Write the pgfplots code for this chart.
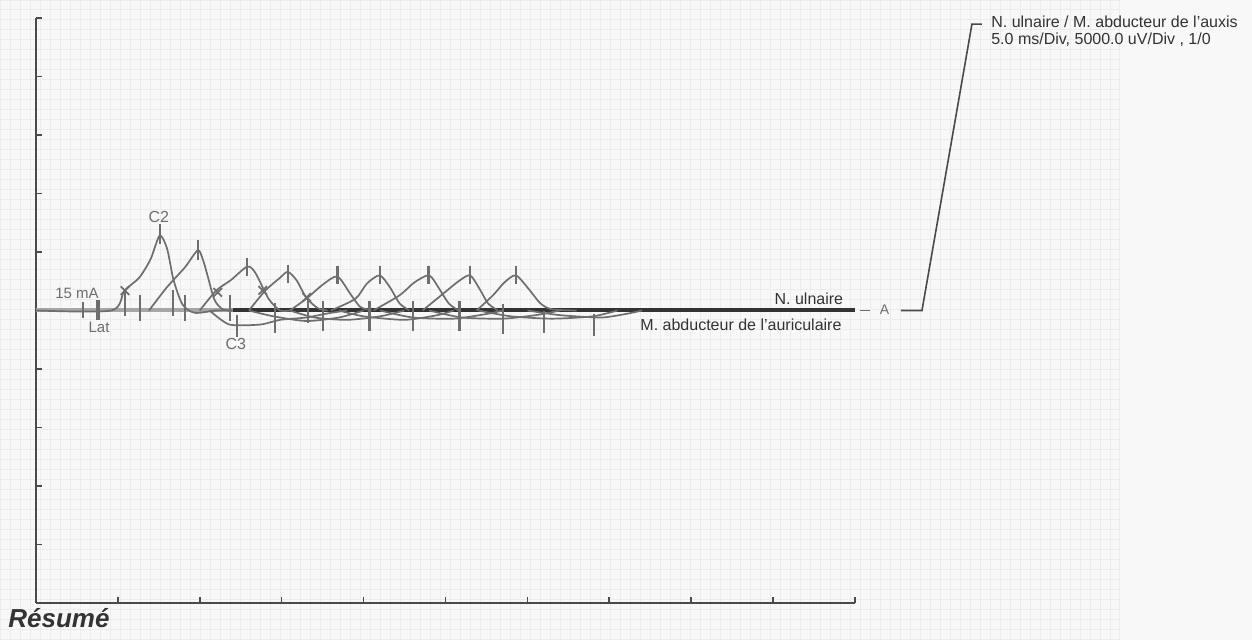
\documentclass[border=0pt]{standalone}
\usepackage{fontspec}
\setmainfont{Liberation Sans}
\usepackage{pgfplots}
\pgfplotsset{compat=1.18}
\definecolor{trace}{HTML}{6E6E6E}
\definecolor{axisc}{HTML}{4A4A4A}
\definecolor{dark}{HTML}{333333}
\definecolor{gridc}{HTML}{ECECEC}
\definecolor{paper}{HTML}{F8F8F8}
\begin{document}
\begin{tikzpicture}
\path[use as bounding box, fill=paper] (0,0) rectangle (626pt,320pt);
\draw[gridc, line width=0.5pt] (0,0) grid[step=5pt] (560pt,320pt);
\begin{axis}[
  at={(18pt,18.5pt)}, anchor=south west,
  scale only axis, width=409.5pt, height=292.5pt,
  xmin=0, xmax=50, ymin=-25, ymax=25,
  axis x line=bottom, axis y line=left,
  axis line style={-, draw=axisc, line width=1pt},
  xtick={0,5,...,50}, ytick={-25,-20,...,25},
  xticklabels={}, yticklabels={},
  tick align=inside, major tick length=3pt,
  tick style={axisc, line width=0.8pt},
  clip=false,
  every axis plot/.append style={trace, line width=0.85pt},
]
% baseline
\addplot[gray!70, line width=2pt] coordinates {(0,0)(12,0)};
\addplot[dark, line width=2pt] coordinates {(12,0)(50,0)};
% N. ulnaire traces
\addplot[smooth, tension=0.45] coordinates {(0,0)(4.6,0)(5.4,1.7)(6.3,2.8)(7.0,4.4)(7.55,6.4)(8.0,5.3)(8.4,2.6)(8.95,0.5)(9.7,-0.2)(11,0)(12,0)};
\addplot[smooth, tension=0.45] coordinates {(6.9,0)(8.0,2.0)(9.1,3.7)(9.88,5.15)(10.2,4.3)(10.45,3.1)(10.9,0.9)(11.4,0.1)(12,0)};
\addplot[smooth, tension=0.45] coordinates {(10.0,0)(11.0,1.7)(11.9,2.6)(12.9,3.75)(13.4,3.2)(14.2,1.0)(14.9,0)(15.5,0)};
\addplot[smooth, tension=0.45] coordinates {(13.0,0)(14.0,1.7)(14.9,2.8)(15.37,3.3)(15.9,2.6)(16.5,1.1)(17.2,0.2)(17.8,0)};
\addplot[smooth, tension=0.45] coordinates {(15.5,0)(16.5,1.0)(17.5,2.2)(18.4,2.9)(19.2,1.4)(19.8,0.3)(20.5,0)};
\addplot[smooth, tension=0.45] coordinates {(18.0,0)(19.5,1.0)(20.2,2.3)(20.98,3.0)(21.6,2.0)(22.2,0.6)(22.8,0)};
\addplot[smooth, tension=0.45] coordinates {(20.6,0)(22.2,1.3)(23.1,2.4)(24.0,3.0)(24.6,1.9)(25.2,0.6)(25.8,0)};
\addplot[smooth, tension=0.45] coordinates {(23.6,0)(25.0,1.6)(25.8,2.5)(26.5,3.0)(27.1,1.8)(27.6,0.6)(28.2,0)};
\addplot[smooth, tension=0.45] coordinates {(26.9,0)(27.9,1.3)(28.6,2.4)(29.3,3.0)(30.1,1.8)(30.8,0.6)(31.5,0.1)(33,0)};
% M. abducteur traces
\addplot[smooth, tension=0.4] coordinates {(10.6,0)(11.8,-1.2)(13.7,-1.2)(14.9,-0.8)(16.5,-0.6)(18,-0.2)(19,0)};
\addplot[smooth, tension=0.4] coordinates {(13.0,0)(14.5,-0.5)(16.5,-0.9)(18.5,-0.6)(20,0)};
\addplot[smooth, tension=0.4] coordinates {(15.5,0)(17,-0.6)(19,-0.8)(21,-0.5)(22.5,0)};
\addplot[smooth, tension=0.4] coordinates {(18.5,0)(20,-0.5)(22.5,-0.8)(24.5,-0.4)(25.5,0)};
\addplot[smooth, tension=0.4] coordinates {(21,0)(23,-0.6)(25.5,-0.7)(27.5,-0.3)(28.5,0)};
\addplot[smooth, tension=0.4] coordinates {(24,0)(26,-0.6)(28.5,-0.7)(30.5,-0.4)(32,0)};
\addplot[smooth, tension=0.4] coordinates {(27,0)(29,-0.5)(31.5,-0.7)(34,-0.5)(35.5,0)};
\addplot[smooth, tension=0.4] coordinates {(30,0)(32,-0.4)(34.5,-0.6)(36,-0.3)(37,0)};
% markers
\addplot[only marks, mark=|, mark size=5pt, mark options={trace, line width=1pt}] coordinates {(7.56,6.5)(9.88,5.15)};
\addplot[only marks, mark=|, mark size=4.5pt, mark options={trace, line width=1pt}] coordinates {(12.9,3.7)(15.37,3.1)(20.98,3.0)(26.47,3.0)(29.33,3.0)};
\addplot[only marks, mark=|, mark size=4.5pt, mark options={trace, line width=1.6pt}] coordinates {(18.4,3.0)(23.97,3.0)};
\addplot[only marks, mark=|, mark size=6.5pt, mark options={trace, line width=1pt}] coordinates {(5.43,0.6)(6.34,0.2)(8.35,0.6)(9.09,0.2)(11.83,0.2)(16.6,0.0)};
\addplot[only marks, mark=|, mark size=7.5pt, mark options={trace, line width=1pt}] coordinates {(14.57,-0.6)(17.5,-0.5)(22.99,-0.5)(28.48,-0.7)};
\addplot[only marks, mark=|, mark size=7.5pt, mark options={trace, line width=1.6pt}] coordinates {(20.37,-0.5)(25.86,-0.5)};
\addplot[only marks, mark=|, mark size=5.5pt, mark options={trace, line width=1pt}] coordinates {(31.04,-1.0)(34.09,-1.2)(12.26,-1.3)};
\addplot[only marks, mark=|, mark size=4pt, mark options={trace, line width=0.9pt}] coordinates {(2.87,0)};
\addplot[only marks, mark=|, mark size=5pt, mark options={trace, line width=1.6pt}] coordinates {(3.78,0)};
\addplot[only marks, mark=x, mark size=3pt, mark options={trace, line width=0.9pt}] coordinates {(5.43,1.7)(11.1,1.55)(13.84,1.72)(16.53,1.12)};
% labels
\node[anchor=base west, font=\fontsize{7.5}{8}\selectfont, text=trace, inner sep=0pt] at (axis cs:1.16,1.0) {15 mA};
\node[anchor=base, font=\fontsize{7.5}{8}\selectfont, text=trace, inner sep=0pt] at (axis cs:3.85,-1.85) {Lat};
\node[anchor=base, font=\fontsize{8}{9}\selectfont, text=trace, inner sep=0pt] at (axis cs:7.5,7.5) {C2};
\node[anchor=base, font=\fontsize{8}{9}\selectfont, text=trace, inner sep=0pt] at (axis cs:12.2,-3.35) {C3};
\node[anchor=base east, font=\fontsize{8}{9}\selectfont, text=dark, inner sep=0pt] at (axis cs:49.3,0.55) {N. ulnaire};
\node[anchor=base east, font=\fontsize{8}{9}\selectfont, text=dark, inner sep=0pt] at (axis cs:49.2,-1.7) {M. abducteur de l'auriculaire};
\draw[trace, line width=0.8pt] (axis cs:50.3,0) -- (axis cs:50.9,0);
\node[anchor=center, font=\fontsize{7}{8}\selectfont, text=trace, inner sep=0pt] at (axis cs:51.8,0.1) {A};
\draw[axisc, line width=0.8pt] (axis cs:52.8,0) -- (axis cs:54.09,0) -- (axis cs:57.14,24.48) -- (axis cs:57.75,24.48);
\node[anchor=base west, font=\fontsize{8}{9}\selectfont, text=dark, inner sep=0pt] at (axis cs:58.3,24.2) {N. ulnaire / M. abducteur de l'auxis};
\node[anchor=base west, font=\fontsize{8}{9}\selectfont, text=dark, inner sep=0pt] at (axis cs:58.3,22.75) {5.0 ms/Div, 5000.0 uV/Div , 1/0};
\end{axis}
\node[anchor=base west, inner sep=0pt, font=\fontsize{13}{14}\selectfont\bfseries\itshape, text=dark] at (4pt,6pt) {Résumé};
\end{tikzpicture}
\end{document}
